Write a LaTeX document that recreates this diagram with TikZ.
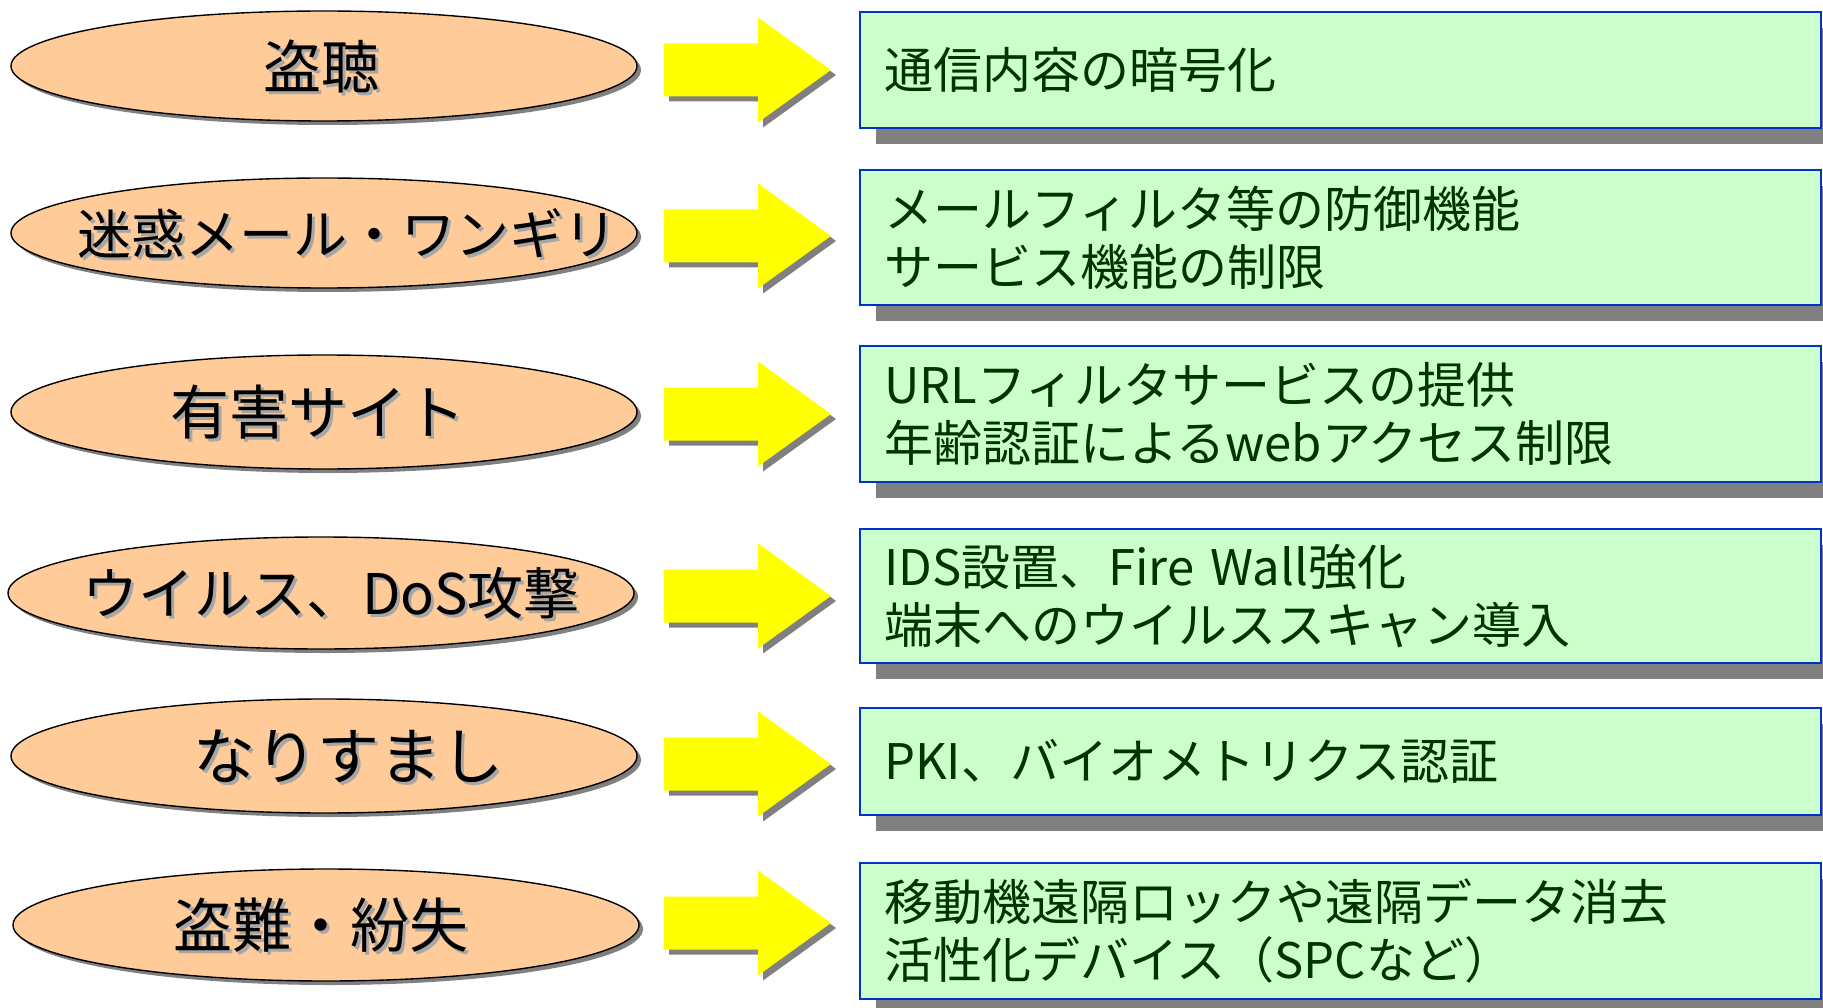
\documentclass[tikz,border=0pt]{standalone}
\usepackage{fontspec}
\setmainfont{Noto Sans CJK JP}
\usetikzlibrary{shapes.geometric,shadows}
\definecolor{efill}{HTML}{FFCC99}
\definecolor{bfill}{HTML}{CCFFCC}
\definecolor{bdraw}{HTML}{0033CC}
\definecolor{btext}{HTML}{003300}
\definecolor{shad}{HTML}{808080}
\definecolor{ayel}{HTML}{FFFF00}
\begin{document}
\begin{tikzpicture}[x=1pt,y=-1pt,
  threat/.style={ellipse, draw=black, line width=1.4pt, fill=efill,
    minimum width=626pt, minimum height=110pt, inner sep=0pt,
    general shadow={fill=shad, shadow xshift=4pt, shadow yshift=-4pt}},
  ttext/.style={inner sep=0pt, text=black, font=\fontsize{#1}{#1}\selectfont},
  tshad/.style={inner sep=0pt, text=shad!70, font=\fontsize{#1}{#1}\selectfont},
  measure/.style={rectangle, draw=bdraw, line width=1.6pt, fill=bfill,
    minimum height=#1, text width=913pt, inner xsep=24pt, inner ysep=0pt, align=left,
    text=btext, font=\fontsize{49pt}{58pt}\selectfont,
    general shadow={fill=shad, shadow xshift=16pt, shadow yshift=-16pt}},
  bigarrow/.pic={
    \fill[shad] (5,-21.5) -- (99,-21.5) -- (99,-47.5) -- (172,5) -- (99,57.5) -- (99,31.5) -- (5,31.5) -- cycle;
    \fill[ayel] (0,-26.5) -- (94,-26.5) -- (94,-52.5) -- (167,0) -- (94,52.5) -- (94,26.5) -- (0,26.5) -- cycle;
  }]
\useasboundingbox (0,0) rectangle (1823,1008);

% threats
\node[threat] (e1) at (324,66) {};
\node[threat] (e2) at (324,233) {};
\node[threat, minimum height=114pt] (e3) at (324,412) {};
\node[threat, minimum height=112pt] (e4) at (321,593) {};
\node[threat, minimum height=114pt] (e5) at (324,756) {};
\node[threat, minimum height=112pt] (e6) at (326,925) {};

\node[tshad=58pt, xshift=0pt, yshift=-3pt] (e1s) at (e1) {盗聴};
\node[ttext=58pt, xshift=-3pt] (e1t) at (e1) {盗聴};
\node[tshad=54pt, xshift=26pt, yshift=-3pt] (e2s) at (e2) {迷惑メール・ワンギリ};
\node[ttext=54pt, xshift=23pt] (e2t) at (e2) {迷惑メール・ワンギリ};
\node[tshad=59pt, xshift=-3pt, yshift=-3pt] (e3s) at (e3) {有害サイト};
\node[ttext=59pt, xshift=-6pt] (e3t) at (e3) {有害サイト};
\node[tshad=56pt, xshift=13pt, yshift=-3pt] (e4s) at (e4) {ウイルス、DoS攻撃};
\node[ttext=56pt, xshift=10pt] (e4t) at (e4) {ウイルス、DoS攻撃};
\node[tshad=62pt, xshift=27pt, yshift=-3pt] (e5s) at (e5) {なりすまし};
\node[ttext=62pt, xshift=24pt] (e5t) at (e5) {なりすまし};
\node[tshad=59pt, xshift=-2pt, yshift=-3pt] (e6s) at (e6) {盗難・紛失};
\node[ttext=59pt, xshift=-5pt] (e6t) at (e6) {盗難・紛失};

% arrows
\coordinate (a1) at (664,70);
\coordinate (a2) at (664,236);
\coordinate (a3) at (664,414);
\coordinate (a4) at (664,596);
\coordinate (a5) at (664,764);
\coordinate (a6) at (664,923);
\pic at (a1) {bigarrow};
\pic at (a2) {bigarrow};
\pic at (a3) {bigarrow};
\pic at (a4) {bigarrow};
\pic at (a5) {bigarrow};
\pic at (a6) {bigarrow};

% measures
\node[measure=116pt] (b1) at (1340.5,70) {通信内容の暗号化};
\node[measure=135pt] (b2) at (1340.5,237.5) {メールフィルタ等の防御機能\\サービス機能の制限};
\node[measure=136pt] (b3) at (1340.5,414) {URLフィルタサービスの提供\\年齢認証によるwebアクセス制限};
\node[measure=134pt] (b4) at (1340.5,596) {IDS設置、Fire Wall強化\\端末へのウイルススキャン導入};
\node[measure=107pt] (b5) at (1340.5,761.5) {PKI、バイオメトリクス認証};
\node[measure=136pt] (b6) at (1340.5,931) {移動機遠隔ロックや遠隔データ消去\\活性化デバイス（SPCなど）};
\end{tikzpicture}
\end{document}
